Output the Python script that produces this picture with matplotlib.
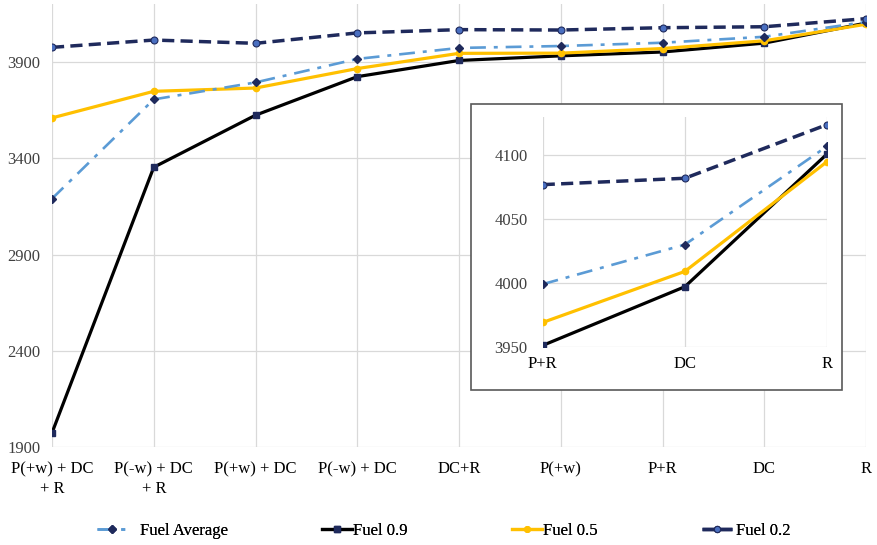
import matplotlib
matplotlib.use("Agg")
import matplotlib.pyplot as plt
from matplotlib.patches import Rectangle

plt.rcParams['font.family'] = ['Liberation Serif', 'DejaVu Serif']

categories = ["P(+w) + DC\n+ R", "P(-w) + DC\n+ R", "P(+w) + DC", "P(-w) + DC",
              "DC+R", "P(+w)", "P+R", "DC", "R"]
fuel_avg = [3190, 3705, 3793, 3915, 3972, 3982, 3999, 4030, 4107]
fuel_09 = [1975, 3353, 3623, 3823, 3907, 3931, 3951, 3997, 4101]
fuel_05 = [3609, 3747, 3764, 3865, 3944, 3945, 3969, 4009, 4095]
fuel_02 = [3975, 4013, 3996, 4050, 4067, 4065, 4077, 4082, 4124]

inset_categories = ["P+R", "DC", "R"]
main_yticks = [1900, 2400, 2900, 3400, 3900]
inset_yticks = [3950, 4000, 4050, 4100]

NAVY = "#1F2A5C"
LBLUE = "#5B9BD5"
GOLD = "#FFC000"
GRID = "#D9D9D9"
TXT = "#404040"

W, H = 877, 545
fig = plt.figure(figsize=(W / 100, H / 100), dpi=100)

def fx(px):
    return px / W

def fy(py):
    return 1 - py / H

ax = fig.add_axes([fx(52), fy(447.3), fx(866 - 52), (447.3 - 4) / H])

def draw(a, xs, sel):
    a.plot(xs, [fuel_avg[i] for i in sel], color=LBLUE, lw=1.9, ls=(0, (6, 3, 1.5, 3)),
           marker="D", ms=4.5, mfc=NAVY, mec=NAVY, label="Fuel Average", zorder=4)
    a.plot(xs, [fuel_09[i] for i in sel], color="black", lw=2.3,
           marker="s", ms=4.5, mfc=NAVY, mec=NAVY, label="Fuel 0.9", zorder=3)
    a.plot(xs, [fuel_05[i] for i in sel], color=GOLD, lw=2.3,
           marker="o", ms=4.5, mfc=GOLD, mec=GOLD, label="Fuel 0.5", zorder=3)
    a.plot(xs, [fuel_02[i] for i in sel], color=NAVY, lw=2.5, ls=(0, (3.5, 1.8)),
           marker="o", ms=5, mfc="#4A6FC0", mec=NAVY, mew=0.8, label="Fuel 0.2", zorder=5)

n = len(categories)
draw(ax, list(range(n)), list(range(n)))
ax.set_xlim(0, n - 1)
ax.set_ylim(1900, 4200)
ax.set_yticks(main_yticks)
ax.set_xticks(range(n))
ax.set_xticklabels(categories, fontsize=12, color="black", linespacing=1.3)
ax.tick_params(axis="both", length=0, labelsize=12, colors=TXT)
ax.tick_params(axis="x", pad=10, colors="black")
ax.tick_params(axis="y", pad=8.5)
ax.grid(True, color=GRID, lw=0.9)
ax.set_axisbelow(True)
for s in ax.spines.values():
    s.set_visible(False)

# inset frame
rect = Rectangle((fx(471), fy(390)), fx(842 - 471), (390 - 104) / H, transform=fig.transFigure,
                 facecolor="white", edgecolor="#595959", lw=1.2, zorder=10)
fig.add_artist(rect)

ia = fig.add_axes([fx(542.7), fy(346.7), fx(827 - 542.7), (346.7 - 117) / H], zorder=11)
ia.patch.set_alpha(0)
sel = [6, 7, 8]
draw(ia, [0, 1, 2], sel)
ia.set_xlim(0, 2)
ia.set_ylim(3950, 4130)
ia.set_yticks(inset_yticks)
ia.set_xticks([0, 1, 2])
ia.set_xticklabels(inset_categories)
ia.tick_params(axis="both", length=0, labelsize=12, colors=TXT)
ia.tick_params(axis="x", colors="black", pad=7)
ia.tick_params(axis="y", pad=11)
ia.grid(True, color=GRID, lw=0.9)
ia.set_axisbelow(True)
for s in ia.spines.values():
    s.set_visible(False)

handles, labels = ax.get_legend_handles_labels()
leg_x = [97, 322, 512, 702]
leg_pad = [0.75, 0.05, 0.05, 0.25]
for h, l, x0, p in zip(handles, labels, leg_x, leg_pad):
    lg = fig.legend([h], [l], loc="center left", bbox_to_anchor=(fx(x0), fy(531)),
                    frameon=False, fontsize=12, handlelength=1.8, handletextpad=p,
                    borderpad=0, borderaxespad=0, markerscale=0.9)
    fig.add_artist(lg)

fig.savefig("out.png", dpi=100)
